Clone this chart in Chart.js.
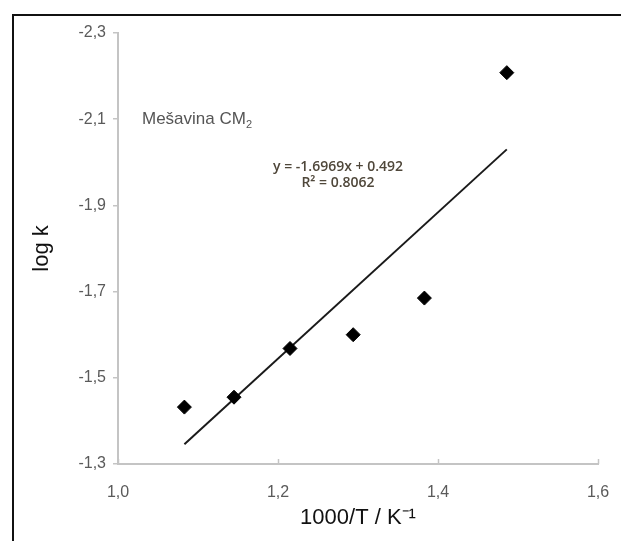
<!DOCTYPE html>
<html lang="sr">
<head>
<meta charset="UTF-8">
<title>Mešavina CM2 - log k</title>
<script src="https://cdn.jsdelivr.net/npm/chart.js"></script>
<style>
  body { margin: 0; background: #fff; }
  .wrap { position: relative; width: 621px; height: 541px; overflow: hidden; }
  .frame {
    position: absolute; left: 12px; top: 14px; width: 700px; height: 600px;
    border-left: 2px solid #111; border-top: 2px solid #111; pointer-events: none;
  }
  canvas { position: absolute; left: 0; top: 0; }
</style>
</head>
<body>
<div class="wrap">
  <canvas id="arrhenius" width="621" height="541"></canvas>
  <div class="frame"></div>
</div>
<script>
// measured points (1000/T, log k)
const invTemp = [1.083, 1.145, 1.215, 1.294, 1.383, 1.486];
const logK = [-1.432, -1.455, -1.568, -1.600, -1.685, -2.208];
// ends of the linear trend line
const trendX = [1.083, 1.486];
const trendY = [-1.346, -2.030];
const xTicks = [1.0, 1.2, 1.4, 1.6];
const yTicks = [-2.3, -2.1, -1.9, -1.7, -1.5, -1.3];
const seriesName = 'Mešavina CM';
const seriesSub = '2';
const eqLines = ['y = -1.6969x + 0.492', 'R² = 0.8062'];

const axisColor = '#c4c4c4';
const tickFont = { family: '"Liberation Sans", Arial, sans-serif', size: 16 };
const titleFont = { family: '"Liberation Sans", Arial, sans-serif', size: 22 };
const fmt = v => Number(v).toFixed(1).replace('.', ',');

// labels inside the plot + inward tick marks on the x axis
const annotations = {
  id: 'annotations',
  afterDraw(chart) {
    const { ctx, scales: { x, y } } = chart;
    ctx.save();
    ctx.strokeStyle = axisColor;
    ctx.lineWidth = 1.5;
    xTicks.forEach(v => {
      const px = Math.round(x.getPixelForValue(v)) + 0.5;
      ctx.beginPath();
      ctx.moveTo(px, y.bottom);
      ctx.lineTo(px, y.bottom - 5);
      ctx.stroke();
    });

    ctx.fillStyle = '#555';
    ctx.textBaseline = 'middle';
    ctx.textAlign = 'left';
    ctx.font = '17px "Liberation Sans", Arial, sans-serif';
    const lx = x.getPixelForValue(1.03);
    const ly = y.getPixelForValue(-2.1);
    ctx.fillText(seriesName, lx, ly);
    const w = ctx.measureText(seriesName).width;
    ctx.font = '11px "Liberation Sans", Arial, sans-serif';
    ctx.fillText(seriesSub, lx + w, ly + 6);

    ctx.fillStyle = '#4f473a';
    ctx.textAlign = 'center';
    ctx.font = '600 14px "Open Sans", sans-serif';
    const ex = x.getPixelForValue(1.275);
    ctx.fillText(eqLines[0], ex, y.getPixelForValue(-1.988));
    ctx.fillText(eqLines[1], ex, y.getPixelForValue(-1.952));
    ctx.restore();
  }
};

new Chart(document.getElementById('arrhenius'), {
  type: 'scatter',
  data: {
    datasets: [
      {
        label: 'log k',
        data: invTemp.map((v, i) => ({ x: v, y: logK[i] })),
        pointStyle: 'rectRot',
        pointRadius: 7,
        backgroundColor: '#000',
        borderColor: '#000',
        borderWidth: 1
      },
      {
        label: 'trend',
        data: trendX.map((v, i) => ({ x: v, y: trendY[i] })),
        showLine: true,
        pointRadius: 0,
        borderColor: '#1a1a1a',
        borderWidth: 2
      }
    ]
  },
  options: {
    responsive: false,
    animation: false,
    layout: { padding: { top: 33, right: 23, left: 0, bottom: 0 } },
    plugins: { legend: { display: false }, tooltip: { enabled: false } },
    scales: {
      x: {
        type: 'linear',
        min: 1.0,
        max: 1.6,
        afterBuildTicks: s => { s.ticks = xTicks.map(v => ({ value: v })); },
        afterFit: s => { s.height = 77; },
        ticks: { color: '#5a5a5a', font: tickFont, padding: 11, callback: fmt },
        grid: { display: false },
        border: { display: true, color: axisColor, width: 2 },
        title: { display: true, text: '1000/T / K⁻¹', color: '#111', font: titleFont, padding: { top: 0, bottom: 10 } }
      },
      y: {
        type: 'linear',
        reverse: true,
        min: -2.3,
        max: -1.3,
        afterBuildTicks: s => { s.ticks = yTicks.map(v => ({ value: v })); },
        afterFit: s => { s.width = 118; },
        ticks: { color: '#5a5a5a', font: tickFont, padding: 7, callback: fmt },
        grid: { display: true, drawOnChartArea: false, drawTicks: true, tickLength: 5, color: axisColor, lineWidth: 1.5 },
        border: { display: true, color: axisColor, width: 2 },
        title: { display: true, text: 'log k', color: '#111', font: titleFont, padding: { top: 29, bottom: 0 } }
      }
    }
  },
  plugins: [annotations]
});
</script>
</body>
</html>
